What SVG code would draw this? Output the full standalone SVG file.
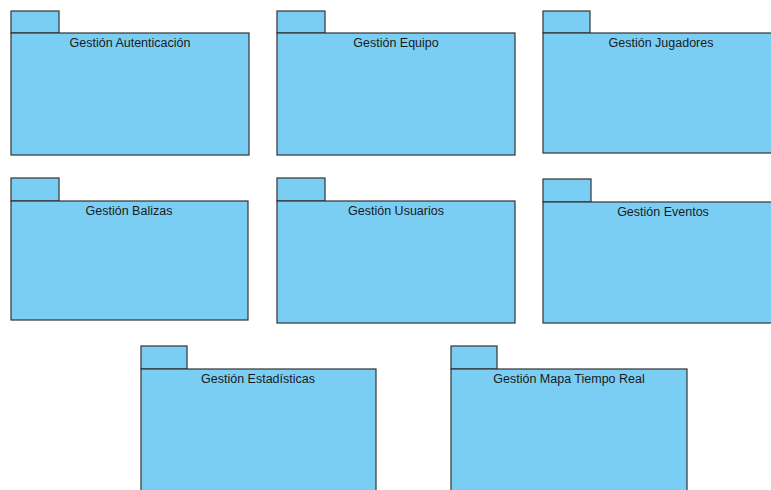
<svg xmlns="http://www.w3.org/2000/svg" width="771" height="490" viewBox="0 0 771 490">
<style>
.pk{fill:#7acef4;stroke:#333;stroke-width:1.2}
.lb{font-family:"Liberation Sans",Arial,sans-serif;font-size:12.5px;fill:#1a1a1a;text-anchor:middle}
</style>
<rect width="771" height="490" fill="#fff"/>
<g id="gestion-autenticacion">
<rect class="pk" x="11" y="11" width="48" height="22"/>
<rect class="pk" x="11" y="33" width="238" height="122"/>
<text class="lb" x="130" y="47">Gestión Autenticación</text>
</g>
<g id="gestion-equipo">
<rect class="pk" x="277" y="11" width="48" height="22"/>
<rect class="pk" x="277" y="33" width="238" height="122"/>
<text class="lb" x="396" y="47">Gestión Equipo</text>
</g>
<g id="gestion-jugadores">
<rect class="pk" x="543" y="11" width="47" height="22"/>
<rect class="pk" x="543" y="33" width="238" height="120"/>
<text class="lb" x="661" y="47">Gestión Jugadores</text>
</g>
<g id="gestion-balizas">
<rect class="pk" x="11" y="178" width="48" height="23"/>
<rect class="pk" x="11" y="201" width="237" height="119"/>
<text class="lb" x="129" y="215">Gestión Balizas</text>
</g>
<g id="gestion-usuarios">
<rect class="pk" x="277" y="178" width="48" height="23"/>
<rect class="pk" x="277" y="201" width="238" height="122"/>
<text class="lb" x="396" y="215">Gestión Usuarios</text>
</g>
<g id="gestion-eventos">
<rect class="pk" x="543" y="179" width="48" height="23"/>
<rect class="pk" x="543" y="202" width="238" height="121"/>
<text class="lb" x="663" y="216">Gestión Eventos</text>
</g>
<g id="gestion-estadisticas">
<rect class="pk" x="141" y="346" width="46" height="23"/>
<rect class="pk" x="141" y="369" width="235" height="130"/>
<text class="lb" x="258" y="383">Gestión Estadísticas</text>
</g>
<g id="gestion-mapa-tiempo-real">
<rect class="pk" x="451" y="346" width="46" height="23"/>
<rect class="pk" x="451" y="369" width="236" height="130"/>
<text class="lb" x="569" y="383">Gestión Mapa Tiempo Real</text>
</g>
<g id="connectors"/>
</svg>
